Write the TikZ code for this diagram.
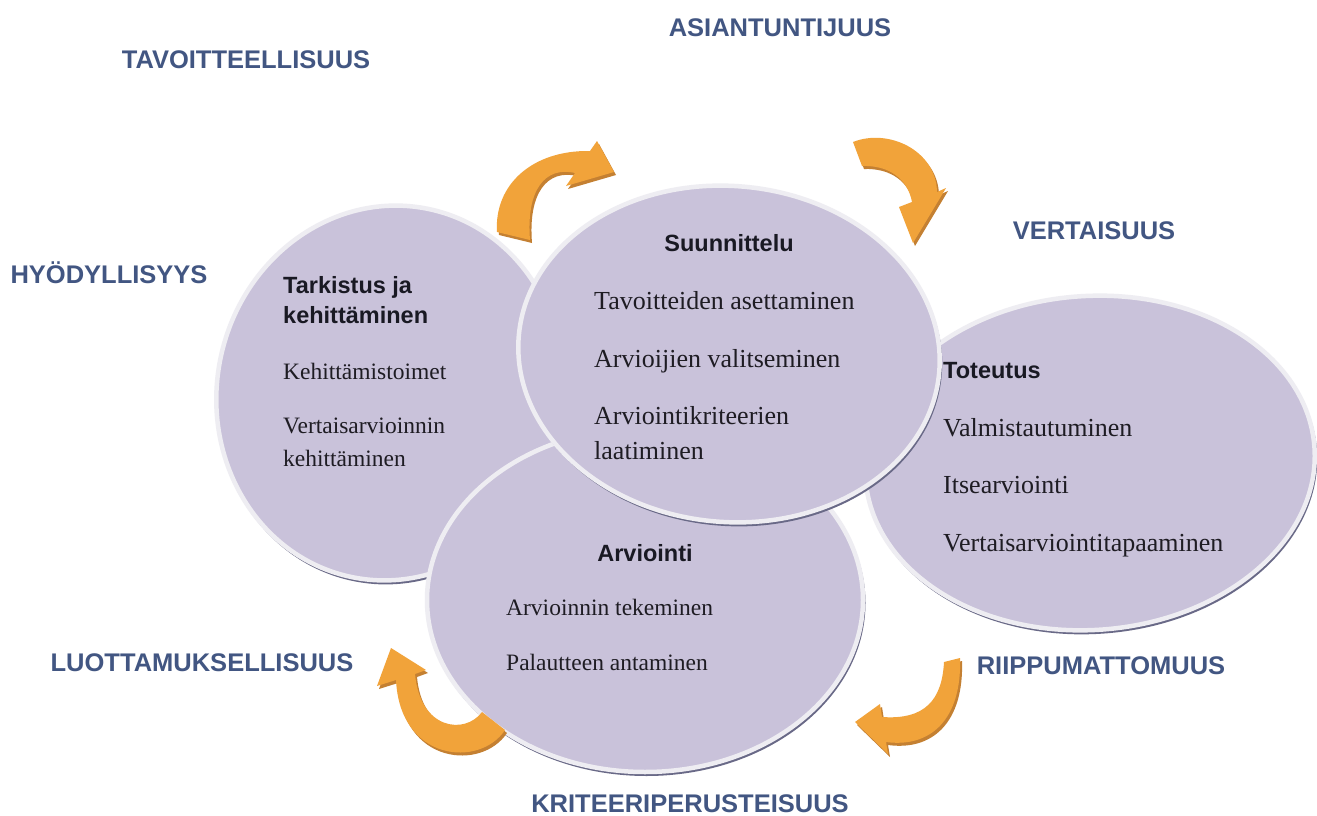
\documentclass[tikz,border=0pt]{standalone}
\usepackage{fontspec}
\setmainfont{Liberation Serif}
\newfontfamily\hsans{Liberation Sans}
\definecolor{lblue}{RGB}{66,86,130}
\definecolor{ellfill}{RGB}{201,194,218}
\definecolor{ellrim}{RGB}{238,237,242}
\definecolor{ellshadow}{RGB}{105,105,135}
\definecolor{arrowmain}{RGB}{241,163,58}
\definecolor{arrowdark}{RGB}{196,128,50}
\definecolor{hdrc}{RGB}{25,25,35}
\definecolor{txtc}{RGB}{30,28,35}
\tikzset{
  ellstyle/.style={fill=ellfill, draw=ellrim, line width=4.5pt},
  lbl/.style={font=\hsans\bfseries\fontsize{25.5}{30}\selectfont, text=lblue, inner sep=0pt, anchor=base},
  hdr/.style={font=\hsans\bfseries\fontsize{23.5}{28}\selectfont, text=hdrc, inner sep=0pt},
  bodyL/.style={font=\fontsize{26}{30}\selectfont, text=txtc, inner sep=0pt, anchor=base west},
  bodyS/.style={font=\fontsize{23.5}{28}\selectfont, text=txtc, inner sep=0pt, anchor=base west},
  arrshadow/.style={fill=arrowdark, shift={(2,3)}},
  arrbody/.style={fill=arrowmain}
}
\newcommand\drawdisc[5]{%
  \fill[ellshadow, rotate around={#5:(#1+1.5,#2+3)}] (#1+1.5,#2+3) ellipse [x radius=#3+1, y radius=#4+1];
  \draw[ellstyle, rotate around={#5:(#1,#2)}] (#1,#2) ellipse [x radius=#3, y radius=#4];}
\newcommand\arrTL{(497,232) .. controls (494,185) and (532,150) .. (590,151) -- (597,141) -- (614,172) -- (566,186) -- (575,173) .. controls (545,166) and (526,190) .. (530,240) -- cycle}
\newcommand\arrTR{(853,142) .. controls (888,128) and (936,150) .. (937,192) -- (946,188) -- (913,243) -- (899,207) -- (912,202) .. controls (908,180) and (890,165) .. (862,166) -- cycle}
\newcommand\arrBR{(960,658) .. controls (962,720) and (930,748) .. (886,742) -- (888,754) -- (855,722) -- (880,704) -- (882,717) .. controls (925,720) and (942,700) .. (944,662) -- cycle}
\newcommand\arrBL{(505,730) .. controls (480,768) and (400,762) .. (396,680) -- (377,686) -- (391,648) -- (426,670) -- (415,674) .. controls (420,730) and (465,735) .. (482,712) -- cycle}
\begin{document}
\begin{tikzpicture}[x=1pt,y=-1pt]
\fill[white] (0,0) rectangle (1317,816);
\useasboundingbox (0,0) rectangle (1317,816);

% discs, back to front
\drawdisc{390}{393}{173}{188}{-12}
\drawdisc{1090}{463}{225}{167}{4}
\drawdisc{645}{600}{218}{172}{0}
\drawdisc{729}{354}{211}{168}{-5}

% arrows
\fill[arrshadow] \arrTL; \fill[arrbody] \arrTL;
\fill[arrshadow] \arrTR; \fill[arrbody] \arrTR;
\fill[arrshadow] \arrBR; \fill[arrbody] \arrBR;
\fill[arrshadow] \arrBL; \fill[arrbody] \arrBL;

% outer labels
\node[lbl] (tav) at (246,69) {TAVOITTEELLISUUS};
\node[lbl] (asi) at (780,37) {ASIANTUNTIJUUS};
\node[lbl] (hyo) at (109,283) {HYÖDYLLISYYS};
\node[lbl] (ver) at (1094,239) {VERTAISUUS};
\node[lbl] (luo) at (202,671) {LUOTTAMUKSELLISUUS};
\node[lbl] (rii) at (1101,674) {RIIPPUMATTOMUUS};
\node[lbl] (kri) at (690,812) {KRITEERIPERUSTEISUUS};

% Tarkistus
\node[hdr, anchor=base west] (t1) at (283,293) {Tarkistus ja};
\node[hdr, anchor=base west] (t2) at (283,323) {kehittäminen};
\node[bodyS] (t3) at (283,379) {Kehittämistoimet};
\node[bodyS] (t4) at (283,433) {Vertaisarvioinnin};
\node[bodyS] (t5) at (283,466) {kehittäminen};

% Suunnittelu
\node[hdr, anchor=base] (s0) at (729,251) {Suunnittelu};
\node[bodyL] (s1) at (594,309) {Tavoitteiden asettaminen};
\node[bodyL] (s2) at (594,367) {Arvioijien valitseminen};
\node[bodyL] (s3) at (594,424) {Arviointikriteerien};
\node[bodyL] (s4) at (594,459) {laatiminen};

% Toteutus
\node[hdr, anchor=base west] (o0) at (943,378) {Toteutus};
\node[bodyL] (o1) at (943,436) {Valmistautuminen};
\node[bodyL] (o2) at (943,493) {Itsearviointi};
\node[bodyL] (o3) at (943,551) {Vertaisarviointitapaaminen};

% Arviointi
\node[hdr, anchor=base] (a0) at (645,561) {Arviointi};
\node[bodyS] (a1) at (506,615) {Arvioinnin tekeminen};
\node[bodyS] (a2) at (506,670) {Palautteen antaminen};
\end{tikzpicture}
\end{document}
